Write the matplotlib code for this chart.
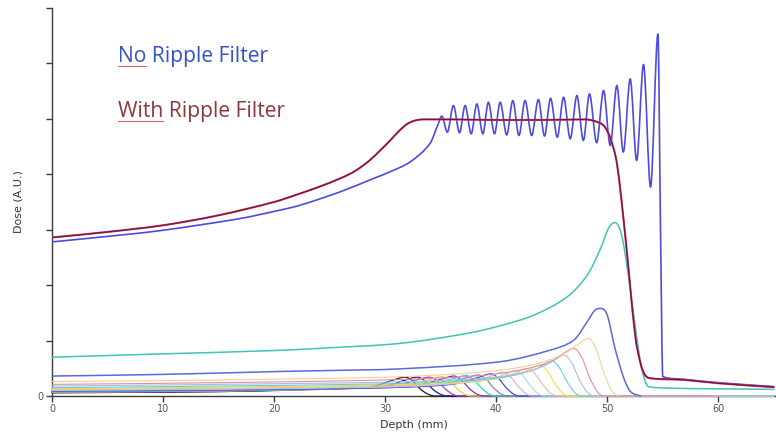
import matplotlib
matplotlib.use('Agg')
import matplotlib.pyplot as plt
from matplotlib.path import Path
from matplotlib.patches import PathPatch

# --- depth-dose data (depth in mm, dose in arbitrary units) ---

# SOBP with ripple filter
rf_depth = [0, 5, 10, 15, 20, 22, 24, 26, 27.3, 28.6, 29.6, 30.5, 31.3, 32, 32.7, 33.5, 36, 40,
            44, 48, 49.3, 49.8, 50.3, 50.9, 51.6, 52.5, 53.0, 53.4, 53.9, 57, 60, 65]
rf_dose = [2.86, 2.96, 3.08, 3.26, 3.50, 3.63, 3.77, 3.93, 4.06, 4.25, 4.44, 4.62, 4.79, 4.91,
           4.97, 4.99, 4.99, 4.98, 4.98, 4.99, 4.93, 4.85, 4.64, 4.16, 2.94, 1.13, 0.59, 0.38,
           0.32, 0.29, 0.23, 0.16]

# SOBP without ripple filter
norf_depth = [0, 6, 10, 16.9, 20, 22.3, 25.9, 28.9, 30.5, 32.3, 34.05, 34.8,
              35.1, 35.6, 36.15, 36.7, 37.2, 37.75, 38.26, 38.8, 39.3, 39.85, 40.36, 40.95,
              41.5, 42.05, 42.6, 43.2, 43.8, 44.35, 44.9, 45.5, 46.07, 46.67, 47.27, 47.85,
              48.4, 49.05, 49.67, 50.27, 50.87, 51.45, 52.07, 52.65, 53.27, 53.9, 54.57,
              54.8, 55.0, 57, 60, 65]
norf_dose = [2.78, 2.90, 2.99, 3.20, 3.33, 3.44, 3.68, 3.92, 4.05, 4.23, 4.56, 4.92,
             5.05, 4.76, 5.24, 4.75, 5.24, 4.73, 5.27, 4.73, 5.30, 4.73, 5.30, 4.71,
             5.33, 4.70, 5.33, 4.70, 5.35, 4.69, 5.37, 4.67, 5.39, 4.64, 5.42, 4.61,
             5.45, 4.57, 5.51, 4.52, 5.60, 4.40, 5.72, 4.25, 5.98, 3.77, 6.53,
             3.0, 0.35, 0.30, 0.24, 0.17]

# individual Bragg peaks building up the SOBP (deepest first)
bp_depths = [
    [0, 10, 20, 25, 31.35, 37.4, 40.4, 43.4, 46.4, 48.2, 49.4, 50.1, 50.7, 51.3, 51.9, 52.5,
     53.1, 53.7, 56, 60, 65],
    [0, 10, 20, 25, 31.35, 40.4, 44.9, 47.0, 48.2, 48.9, 49.4, 50.0, 50.7, 51.5, 52.1, 53],
    [0, 15, 30, 38, 43, 46, 47.5, 48.3, 49.0, 49.7, 50.4, 51],
    [0, 15, 30, 38, 42, 45, 46.3, 47.0, 47.7, 48.4, 49.1, 49.7, 60],
    [0, 15, 30, 38, 42, 44.5, 45.5, 46.1, 46.8, 47.5, 48.2, 48.8, 65],
    [0, 15, 30, 37, 41, 43.5, 44.4, 45.0, 45.7, 46.4, 47.1, 47.7, 65],
    [0, 15, 30, 36, 40, 42.4, 43.3, 43.9, 44.6, 45.3, 46.0, 46.6, 65],
    [0, 15, 30, 35, 39, 41.3, 42.2, 42.8, 43.5, 44.2, 44.9, 45.5, 65],
    [0, 15, 30, 34, 38, 40.2, 41.1, 41.7, 42.4, 43.1, 43.8, 44.4, 65],
    [0, 15, 30, 34, 37, 39.1, 40.0, 40.6, 41.3, 42.0, 42.7, 43.3, 65],
    [0, 15, 30, 36, 38.3, 39.5, 40.2, 40.9, 41.6, 42.2, 65],
    [0, 15, 30, 35, 37.2, 38.4, 39.1, 39.8, 40.5, 41.1, 65],
    [0, 15, 28, 34, 36.1, 37.3, 38.0, 38.7, 39.4, 40.0, 65],
    [0, 15, 27, 33, 35.0, 36.2, 36.9, 37.6, 38.3, 38.9, 65],
    [0, 15, 26, 32, 33.9, 35.1, 35.8, 36.5, 37.2, 37.8, 65],
    [0, 15, 25, 31, 32.8, 34.0, 34.7, 35.4, 36.1, 36.7, 65],
    [0, 15, 24, 30, 31.7, 32.9, 33.6, 34.3, 35.0, 35.6, 65],
    [0, 15, 23, 29, 30.6, 31.8, 32.5, 33.2, 33.9, 34.5, 65],
]
bp_doses = [
    [0.70, 0.76, 0.82, 0.87, 0.95, 1.13, 1.27, 1.46, 1.79, 2.18, 2.66, 3.02, 3.13, 2.90, 2.18,
     1.28, 0.50, 0.17, 0.14, 0.13, 0.12],
    [0.36, 0.39, 0.44, 0.46, 0.49, 0.62, 0.83, 1.01, 1.34, 1.55, 1.58, 1.46, 0.86, 0.32, 0.08, 0.0],
    [0.26, 0.29, 0.34, 0.42, 0.55, 0.75, 0.95, 1.04, 0.85, 0.42, 0.10, 0.0],
    [0.21, 0.24, 0.29, 0.36, 0.46, 0.63, 0.80, 0.86, 0.70, 0.34, 0.08, 0.0, 0.0],
    [0.18, 0.21, 0.25, 0.31, 0.40, 0.56, 0.68, 0.74, 0.60, 0.29, 0.07, 0.0, 0.0],
    [0.15, 0.18, 0.22, 0.27, 0.35, 0.48, 0.58, 0.63, 0.51, 0.25, 0.06, 0.0, 0.0],
    [0.13, 0.16, 0.20, 0.24, 0.31, 0.43, 0.51, 0.56, 0.45, 0.22, 0.05, 0.0, 0.0],
    [0.12, 0.14, 0.18, 0.22, 0.28, 0.38, 0.46, 0.50, 0.40, 0.20, 0.05, 0.0, 0.0],
    [0.11, 0.13, 0.17, 0.20, 0.26, 0.35, 0.42, 0.46, 0.37, 0.18, 0.04, 0.0, 0.0],
    [0.10, 0.12, 0.16, 0.19, 0.24, 0.33, 0.40, 0.43, 0.34, 0.17, 0.04, 0.0, 0.0],
    [0.09, 0.11, 0.15, 0.21, 0.33, 0.40, 0.32, 0.15, 0.03, 0.0, 0.0],
    [0.09, 0.11, 0.15, 0.21, 0.32, 0.38, 0.30, 0.14, 0.03, 0.0, 0.0],
    [0.08, 0.10, 0.14, 0.20, 0.31, 0.37, 0.29, 0.14, 0.03, 0.0, 0.0],
    [0.08, 0.10, 0.14, 0.20, 0.30, 0.36, 0.28, 0.13, 0.03, 0.0, 0.0],
    [0.07, 0.09, 0.13, 0.19, 0.29, 0.35, 0.28, 0.13, 0.03, 0.0, 0.0],
    [0.07, 0.09, 0.13, 0.19, 0.29, 0.34, 0.27, 0.13, 0.03, 0.0, 0.0],
    [0.06, 0.08, 0.12, 0.18, 0.28, 0.34, 0.27, 0.12, 0.03, 0.0, 0.0],
    [0.06, 0.08, 0.12, 0.18, 0.28, 0.34, 0.27, 0.12, 0.03, 0.0, 0.0],
]
bp_colors = ['#3fc4b6', '#5a6ad6', '#f6cf98', '#ec8aa8', '#a9bde0', '#5fd0d8', '#e8e24a',
             '#f2b4a4', '#9fe0ea', '#dba6e2', '#3b4fd4', '#7d86a8', '#2fcfe2', '#7a33b8',
             '#e3da3c', '#c03cc0', '#1d1d8a', '#1a1a1a']
bp_widths = [1.1, 1.1, 0.8, 0.8, 0.8, 0.8, 0.8, 0.8, 0.8, 0.8, 0.9, 0.9, 0.9, 0.9, 0.9, 0.9, 0.9, 0.9]


def smooth_curve(ax, x, y, **kw):
    """Draw a measured profile as a chain of cubic Bezier segments
    (Hermite tangents, flattened at local extrema, no overshoot)."""
    n = len(x)
    m = []
    for i in range(n):
        if i == 0:
            s = (y[1] - y[0]) / (x[1] - x[0])
        elif i == n - 1:
            s = (y[-1] - y[-2]) / (x[-1] - x[-2])
        elif (y[i] - y[i - 1]) * (y[i + 1] - y[i]) <= 0:
            s = 0.0
        else:
            s = (y[i + 1] - y[i - 1]) / (x[i + 1] - x[i - 1])
        m.append(s)
    verts = [(x[0], y[0])]
    codes = [Path.MOVETO]
    for i in range(n - 1):
        h = x[i + 1] - x[i]
        lo, hi = min(y[i], y[i + 1]), max(y[i], y[i + 1])
        c1 = min(max(y[i] + m[i] * h / 3, lo), hi)
        c2 = min(max(y[i + 1] - m[i + 1] * h / 3, lo), hi)
        verts += [(x[i] + h / 3, c1), (x[i + 1] - h / 3, c2), (x[i + 1], y[i + 1])]
        codes += [Path.CURVE4] * 3
    ax.add_patch(PathPatch(Path(verts, codes), fill=False, capstyle='round',
                           joinstyle='round', **kw))


fig = plt.figure(figsize=(7.76, 4.38), dpi=100)
ax = fig.add_axes([52/776, 1 - 396/438, 724/776, 388/438])

# shallow peaks first so that deeper peaks sit on top; tails at zero lie over the axis
for d, v, c, w in reversed(list(zip(bp_depths, bp_doses, bp_colors, bp_widths))):
    smooth_curve(ax, d, v, edgecolor=c, lw=w, zorder=3, clip_on=False)

smooth_curve(ax, norf_depth, norf_dose, edgecolor='#4b4be3', lw=1.2, zorder=4)
smooth_curve(ax, rf_depth, rf_dose, edgecolor='#e0368c', lw=1.5, zorder=4)
smooth_curve(ax, rf_depth, rf_dose, edgecolor='#6e1a2c', lw=0.9, zorder=4)

ax.set_xlim(0, 65.2)
ax.set_ylim(0, 7)
ax.set_xticks(range(0, 70, 10))
ax.set_yticks(range(0, 8))
ax.set_yticklabels(['0'] + [''] * 7)
for side in ['top', 'right']:
    ax.spines[side].set_visible(False)
for side in ['left', 'bottom']:
    ax.spines[side].set_color('#3c3c3c')
    ax.spines[side].set_linewidth(1.0)
ax.tick_params(direction='out', length=4, width=1, color='#3c3c3c',
               labelsize=7, labelcolor='#555555', pad=2)
ax.set_xlabel('Depth (mm)', fontsize=8, color='#333333', labelpad=4)
ax.set_ylabel('Dose (A.U.)', fontsize=8, color='#333333', labelpad=10)

lab_font = dict(fontsize=15.2, family='Open Sans')
t1 = ax.text(0.091, 0.874, 'No Ripple Filter', transform=ax.transAxes, color='#3553c4',
             va='center', **lab_font)
t2 = ax.text(0.091, 0.732, 'With Ripple Filter', transform=ax.transAxes, color='#8a3a3e',
             va='center', **lab_font)

# spell-check style underline under the first word of each label
fig.canvas.draw()
r = fig.canvas.get_renderer()
inv = ax.transAxes.inverted()
for t, word in [(t1, 'No'), (t2, 'With')]:
    tmp = ax.text(0.091, 0, word, transform=ax.transAxes, **lab_font)
    wpx = tmp.get_window_extent(r).width
    tmp.remove()
    bb = t.get_window_extent(r)
    (x0, y0), (x1, _) = inv.transform([(bb.x0, bb.y0 + 1), (bb.x0 + wpx, bb.y0 + 1)])
    ax.plot([x0, x1], [y0, y0], transform=ax.transAxes, color='#e86060', lw=0.8)

fig.savefig('out.png', dpi=100)
